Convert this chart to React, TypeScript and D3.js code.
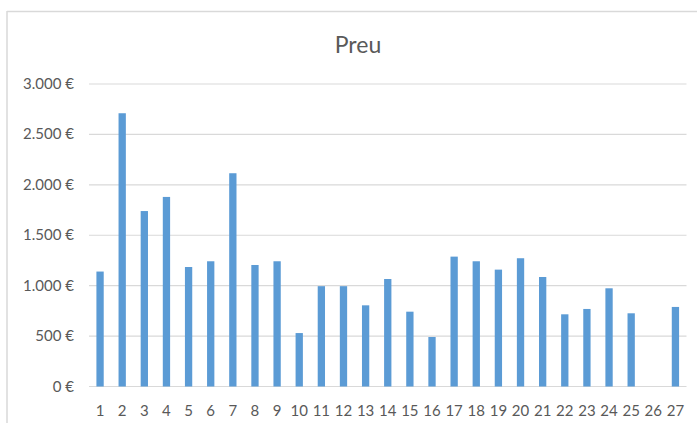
import React from "react";
import * as d3 from "d3";

const categories: string[] = Array.from({ length: 27 }, (_, i) => String(i + 1));
const values: (number | null)[] = [
  1140, 2710, 1740, 1880, 1185, 1242, 2115, 1205, 1242, 530, 995, 995, 805, 1066,
  742, 491, 1288, 1242, 1159, 1272, 1086, 716, 769, 974, 726, null, 789,
];
const yTicks: number[] = [0, 500, 1000, 1500, 2000, 2500, 3000];
const title = "Preu";

const W = 697;
const H = 423;
const plotLeft = 89;
const plotRight = 686.5;
const plotTop = 84;
const plotBottom = 386.5;

const fmt = (v: number) => d3.format(",")(v).replace(/,/g, ".") + " €";

export default function App() {
  const x = d3.scaleBand<string>().domain(categories).range([plotLeft, plotRight]).paddingInner(0.67).paddingOuter(0.335);
  const y = d3.scaleLinear().domain([0, 3000]).range([plotBottom, plotTop]);
  const font = "Lato, 'Open Sans', sans-serif";
  const textColor = "#595959";
  return (
    <div style={{ position: "fixed", left: 0, top: 0 }}>
      <svg width={W} height={H} style={{ display: "block", background: "#fff" }}>
        <rect x={0} y={0} width={W} height={H} fill="#fff" />
        <line x1={7} x2={7} y1={11} y2={H} stroke="#D9D9D9" strokeWidth={1.5} />
        <line x1={7} x2={W} y1={11.5} y2={11.5} stroke="#D9D9D9" strokeWidth={1.5} />
        <text x={358} y={52.5} textAnchor="middle" fontFamily={font} fontSize={23} fill={textColor}>
          {title}
        </text>
        {yTicks.map((t) => (
          <g key={t}>
            <line x1={plotLeft} x2={plotRight} y1={y(t)} y2={y(t)} stroke="#D9D9D9" strokeWidth={1.2} />
            <text x={74} y={y(t) + 5} textAnchor="end" fontFamily={font} fontSize={15} fill={textColor}>
              {fmt(t)}
            </text>
          </g>
        ))}
        {categories.map((c, i) => {
          const v = values[i];
          if (v == null) return null;
          return (
            <rect key={c} x={x(c)} y={y(v)} width={x.bandwidth()} height={y(0) - y(v)} fill="#5B9BD5" />
          );
        })}
        {categories.map((c) => (
          <text key={c} x={(x(c) as number) + x.bandwidth() / 2} y={415.5} textAnchor="middle" fontFamily={font} fontSize={15} fill={textColor}>
            {c}
          </text>
        ))}
      </svg>
    </div>
  );
}
